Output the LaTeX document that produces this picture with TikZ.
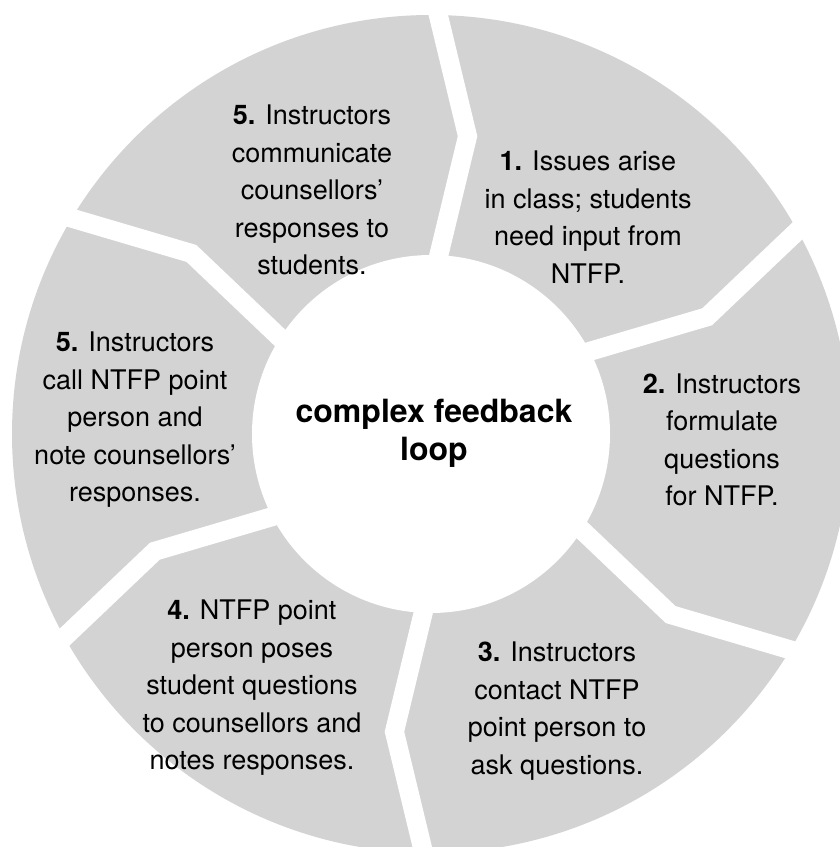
\documentclass[tikz,border=0pt]{standalone}
\usepackage{fontspec}
\setmainfont{TeX Gyre Heros}
\usetikzlibrary{calc}
\definecolor{seggray}{RGB}{211,211,211}
\begin{document}
\begin{tikzpicture}[x=1pt,y=1pt,
  gap/.style={white, line width=19pt, line join=miter, miter limit=10},
  seglabel/.style={align=center, font=\fontsize{27}{37.5}\selectfont, inner sep=0pt},
  titlelabel/.style={align=center, font=\bfseries\fontsize{32}{38}\selectfont, inner sep=0pt}]
\useasboundingbox (0,0) rectangle (840,847);
\clip (0,0) rectangle (840,847);
\coordinate (C) at (431,413);
\fill[seggray] (C) circle[radius=419pt];
\foreach \p in {89,29,-31,-91,-151,-211}{
  \coordinate (t) at ($(C)+(\p-6:300pt)$);
  \coordinate (o) at ($(C)+(\p:419pt)$);
  \coordinate (i) at ($(C)+(\p-1.5:179pt)$);
  \draw[gap] ($(t)!1.25!(o)$) -- (t) -- ($(t)!1.3!(i)$);
}
\fill[white] (C) circle[radius=179pt];
\node[titlelabel] (title) at (434,414) {complex feedback\\loop};
\node[seglabel] (s1) at (588,630) {\textbf{1.} Issues arise\\in class; students\\need input from\\NTFP.};
\node[seglabel] (s2) at (722,407) {\textbf{2.} Instructors\\formulate\\questions\\for NTFP.};
\node[seglabel] (s3) at (557,136) {\textbf{3.} Instructors\\contact NTFP\\point person to\\ask questions.};
\node[seglabel] (s4) at (252,159) {\textbf{4.} NTFP point\\person poses\\student questions\\to counsellors and\\notes responses.};
\node[seglabel] (s5a) at (135,427) {\textbf{5.} Instructors\\call NTFP point\\person and\\note counsellors’\\responses.};
\node[seglabel] (s5b) at (312,657) {\textbf{5.} Instructors\\communicate\\counsellors’\\responses to\\students.};
\end{tikzpicture}
\end{document}
